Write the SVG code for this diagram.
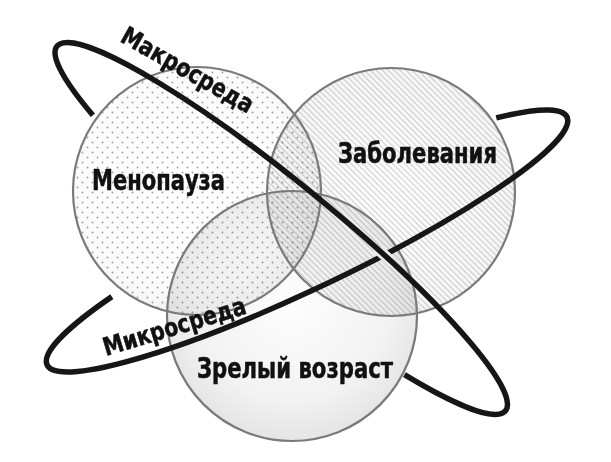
<svg xmlns="http://www.w3.org/2000/svg" width="611" height="462" viewBox="0 0 611 462">
<style>
.fill{mix-blend-mode:multiply}
.outline{fill:none;stroke:#7a7a7a;stroke-width:2.2}
.ring{fill:none;stroke:#161616;stroke-width:5.5;stroke-linecap:butt}
.lbl{font-family:"Liberation Sans Narrow","DejaVu Sans Condensed","Roboto Condensed","Liberation Sans",sans-serif;font-weight:bold;font-stretch:condensed;fill:#111;stroke:#111;stroke-width:0.5}
</style>
<defs>
<radialGradient id="g1" cx="0.45" cy="0.45" r="0.6">
<stop offset="0" stop-color="#ffffff"/><stop offset="0.75" stop-color="#fbfbfb"/><stop offset="1" stop-color="#efefef"/>
</radialGradient>
<radialGradient id="g2" cx="0.5" cy="0.5" r="0.6">
<stop offset="0" stop-color="#ffffff"/><stop offset="1" stop-color="#f6f6f6"/>
</radialGradient>
<radialGradient id="g3" cx="0.5" cy="0.45" r="0.6">
<stop offset="0" stop-color="#fdfdfd"/><stop offset="0.65" stop-color="#f2f2f2"/><stop offset="1" stop-color="#e0e0e0"/>
</radialGradient>
<pattern id="dots" patternUnits="userSpaceOnUse" width="10" height="10">
<circle cx="2.5" cy="2.5" r="0.95" fill="#a2a2a2"/><circle cx="7.5" cy="7.5" r="0.95" fill="#a2a2a2"/>
</pattern>
<pattern id="hatch" patternUnits="userSpaceOnUse" width="10" height="4.2" patternTransform="rotate(45)">
<line x1="0" y1="2" x2="10" y2="2" stroke="#d2d2d2" stroke-width="1.2"/>
</pattern>
<clipPath id="cross"><circle cx="382" cy="258" r="11"/></clipPath>
<path id="macro" d="M -216.4 31.2 A 289 47 0 1 1 189 36" transform="translate(280.5 227.5) rotate(39.1)"/>
<path id="micro" d="M -200.1 -33.8 A 288 47 0 1 0 223.8 -29.6" transform="translate(307 241) rotate(-25.5)"/>
</defs>
<rect width="611" height="462" fill="#ffffff"/>
<g id="menopause">
<circle class="fill" cx="197" cy="191" r="124" fill="url(#g1)"/>
<circle class="fill" cx="197" cy="191" r="124" fill="url(#dots)"/>
</g>
<g id="diseases">
<circle class="fill" cx="391" cy="192" r="124" fill="url(#g2)"/>
<circle class="fill" cx="391" cy="192" r="124" fill="url(#hatch)"/>
</g>
<g id="mature-age">
<circle class="fill" cx="292" cy="316" r="125" fill="url(#g3)"/>
</g>
<g id="outlines">
<circle class="outline" cx="197" cy="191" r="124"/>
<circle class="outline" cx="391" cy="192" r="124"/>
<circle class="outline" cx="292" cy="316" r="125"/>
</g>
<g id="connectors">
<use href="#micro" class="ring"/>
<use href="#macro" class="ring" style="stroke:#ececec;stroke-width:11" clip-path="url(#cross)"/>
<use href="#macro" class="ring"/>
</g>
<g id="labels">
<text class="lbl" x="92" y="190" font-size="28" textLength="133" lengthAdjust="spacingAndGlyphs">Менопауза</text>
<text class="lbl" x="338" y="163" font-size="29" textLength="159" lengthAdjust="spacingAndGlyphs">Заболевания</text>
<text class="lbl" x="197" y="378" font-size="28" textLength="196" lengthAdjust="spacingAndGlyphs">Зрелый возраст</text>
<text class="lbl" x="0" y="0" font-size="25" textLength="148" lengthAdjust="spacingAndGlyphs" transform="translate(119 41) rotate(29.5)">Макросреда</text>
<text class="lbl" x="0" y="0" font-size="25" textLength="148" lengthAdjust="spacingAndGlyphs" transform="translate(106 356) rotate(-16.8)">Микросреда</text>
</g>
</svg>
